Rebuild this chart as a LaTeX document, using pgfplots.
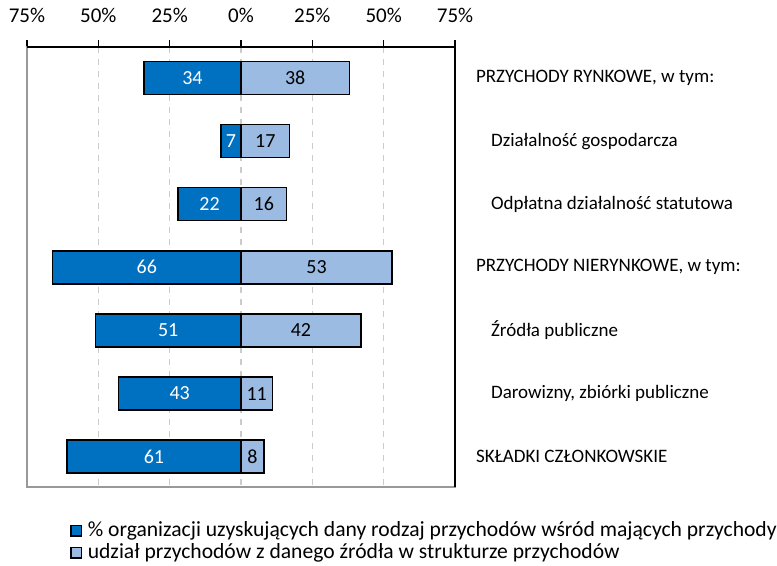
\documentclass[border=0pt]{standalone}
\usepackage{fontspec}
\setmainfont{Carlito}
\usepackage{pgfplots}
\pgfplotsset{compat=1.18}
\definecolor{darkblue}{RGB}{0,112,192}
\definecolor{lightblue}{RGB}{155,187,227}

\begin{document}
\begin{tikzpicture}
\begin{axis}[
    xbar, bar shift=0pt, bar width=16.5pt,
    scale only axis, width=214pt, height=220pt,
    xmin=-75, xmax=75, ymin=-0.49, ymax=6.48, y dir=reverse,
    xtick={-75,-50,...,75},
    xticklabels={75\%,50\%,25\%,0\%,25\%,50\%,75\%},
    xtick pos=right, xticklabel pos=right,
    tick align=outside, major tick length=3.5pt,
    xmajorgrids, grid style={dashed, gray!40, line width=0.6pt},
    ytick={0,...,6},
    yticklabels={PRZYCHODY RYNKOWE{,} w tym:,
        \hspace{7.5pt}Działalność gospodarcza,
        \hspace{7.5pt}Odpłatna działalność statutowa,
        PRZYCHODY NIERYNKOWE{,} w tym:,
        \hspace{7.5pt}Źródła publiczne,
        \hspace{7.5pt}Darowizny{,} zbiórki publiczne,
        SKŁADKI CZŁONKOWSKIE},
    yticklabel pos=right,
    y tick style={draw=none},
    yticklabel style={anchor=west, xshift=3.5pt, font=\fontsize{9.5}{11}\selectfont},
    xticklabel style={font=\fontsize{10.5}{12}\selectfont, yshift=5pt},
    axis line style={draw=gray!80, line width=0.8pt},
    x tick style={black, line width=0.8pt},
    /pgf/number format/assume math mode=true,
    point meta={abs(x)},
    visualization depends on={x \as \rawx},
    nodes near coords,
    every node near coord/.append style={anchor=center, xshift={-0.71333*\rawx}, font=\fontsize{10}{12}\selectfont},
    legend style={at={(0.1005,-0.075)}, anchor=north west, draw=none, fill=none,
        inner sep=0pt, row sep=0.5pt,
        nodes={inner sep=0pt, text height=8pt, text depth=2.5pt},
        cells={anchor=west}, font=\fontsize{10.8}{12}\selectfont},
    legend image code/.code={\draw[#1, line width=0.6pt] (0pt,-2.6pt) rectangle (5.2pt,2.6pt);
        \path (8pt,0pt);},
    after end axis/.code={\draw[black, line width=1.1pt]
        (axis description cs:0,1) -- (axis description cs:1,1) -- (axis description cs:1,0);
        \path (axis description cs:0,0) ++(-13.5pt,-39.5pt) rectangle ++(388.5pt,283pt);},
]
    % udzial organizacji (lewa strona)
    \addplot[draw=black, line width=0.8pt, fill=darkblue,
        every node near coord/.append style={text=white}]
        coordinates {(-34,0) (-7,1) (-22,2) (-66,3) (-51,4) (-43,5) (-61,6)};
    % struktura przychodow (prawa strona)
    \addplot[draw=black, line width=0.8pt, fill=lightblue,
        every node near coord/.append style={text=black}]
        coordinates {(38,0) (17,1) (16,2) (53,3) (42,4) (11,5) (8,6)};
    \legend{\% organizacji uzyskujących dany rodzaj przychodów wśród mających przychody,
        udział przychodów z danego źródła w strukturze przychodów}
\end{axis}
\end{tikzpicture}
\end{document}
